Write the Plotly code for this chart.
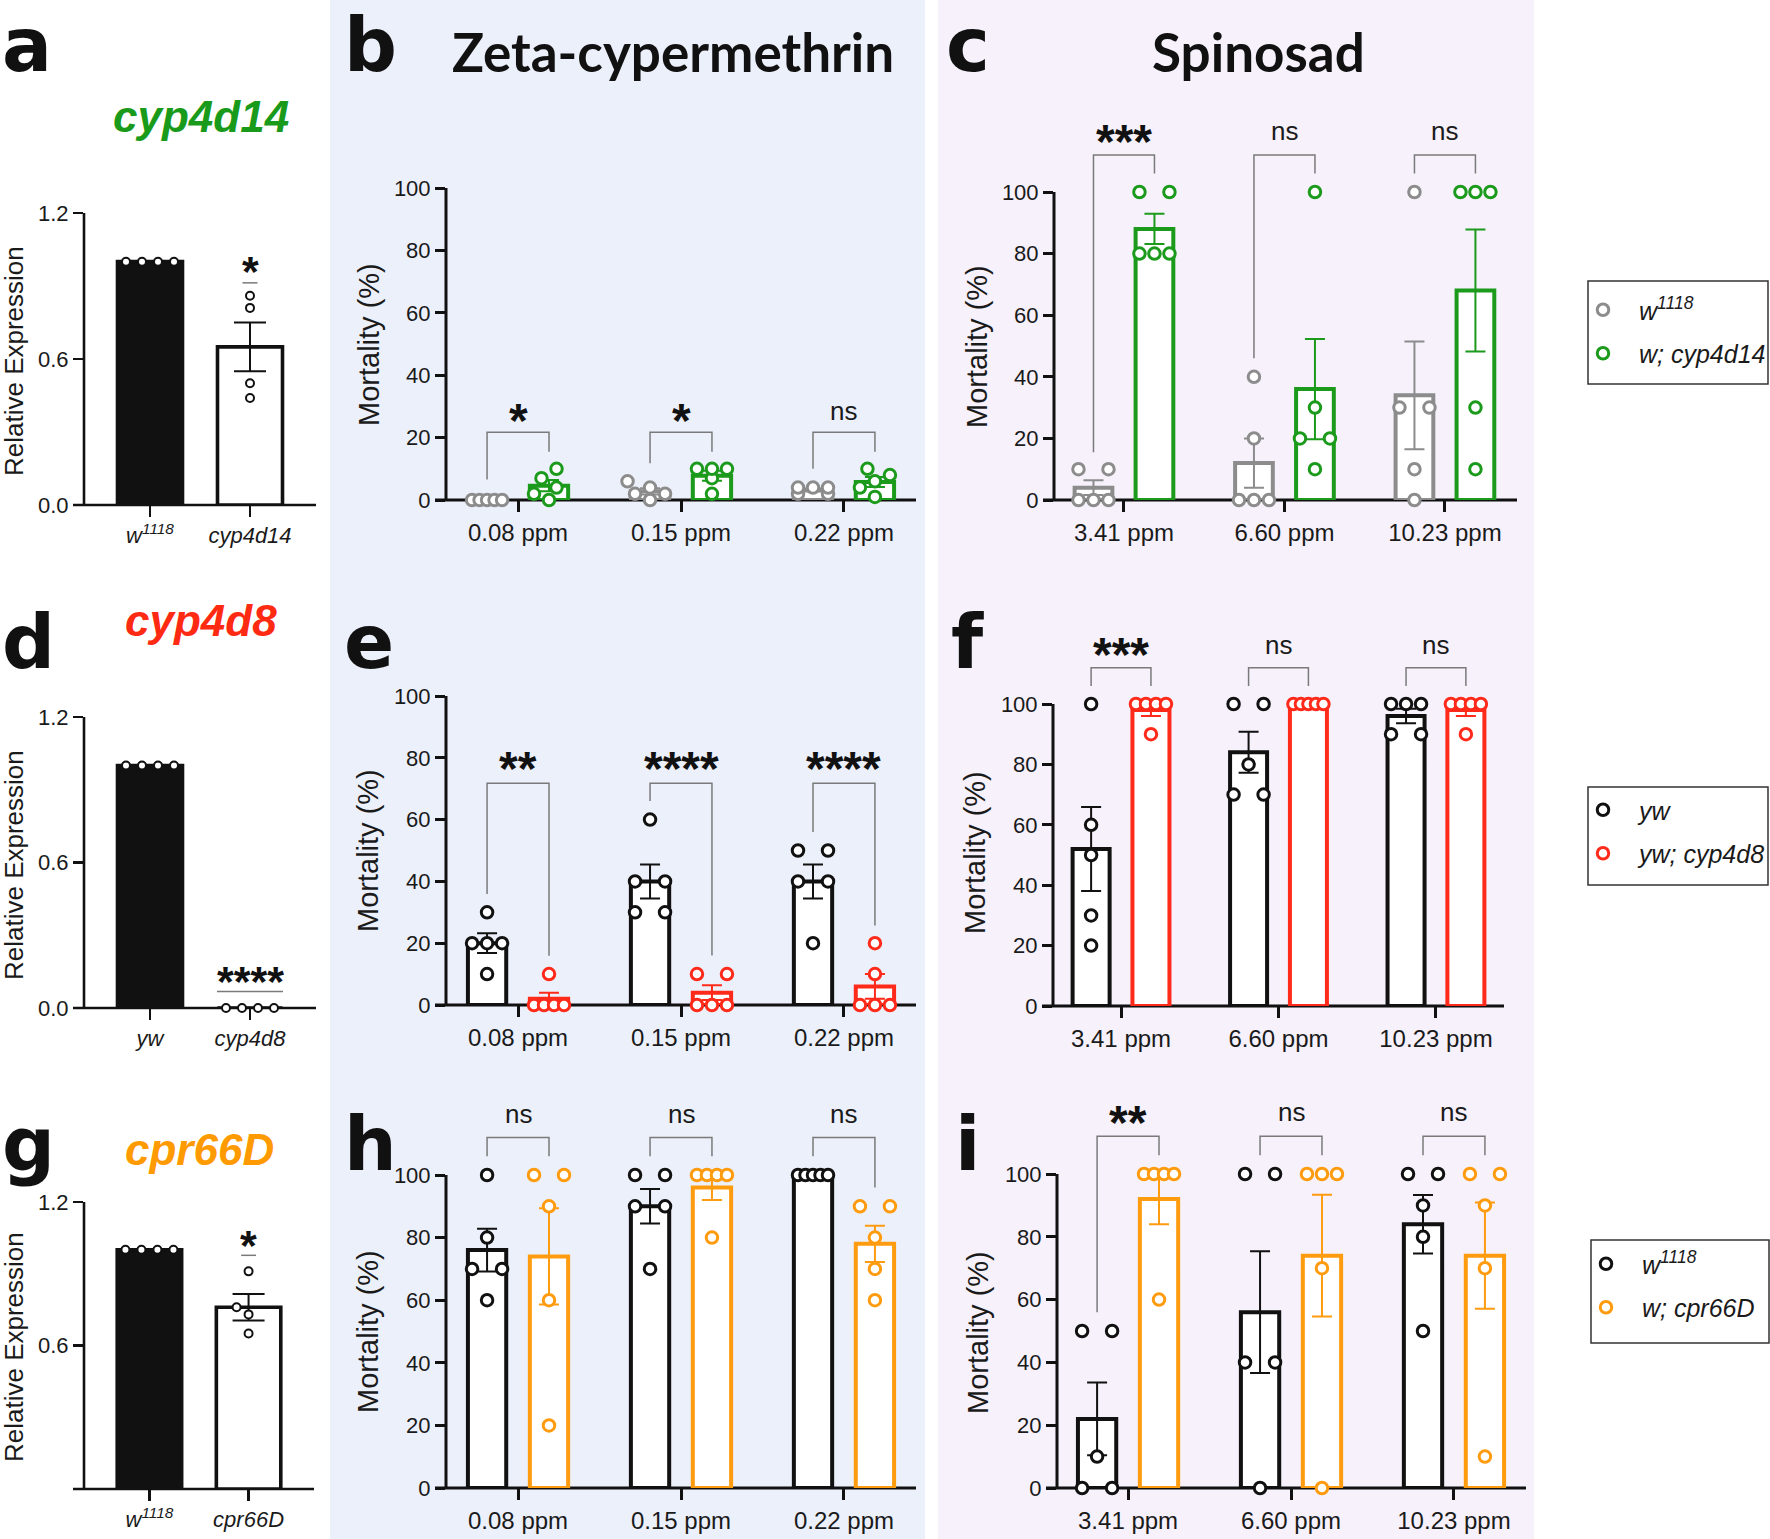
import numpy as np
import plotly.graph_objects as go

W, H = 1770, 1539

# ======================= DATA =======================
# --- relative expression (panels a, d, g) ---
a_labels = ["<i>w<sup>1118</sup></i>", "<i>cyp4d14</i>"]
a_ctrl = [1.00, 1.00, 1.00, 1.00]
a_mut = [0.86, 0.81, 0.50, 0.44]
a_mean = [1.00, 0.65]
a_sem = [0.00, 0.10]
a_sig = "*"
a_sig_y = 0.99
a_line_y = 0.913

d_labels = ["<i>yw</i>", "<i>cyp4d8</i>"]
d_ctrl = [1.00, 1.00, 1.00, 1.00]
d_mut = [0.00, 0.00, 0.00, 0.00]
d_mean = [1.00, 0.00]
d_sem = [0.00, 0.00]
d_sig = "****"
d_sig_y = 0.14
d_line_y = 0.068

g_labels = ["<i>w<sup>1118</sup></i>", "<i>cpr66D</i>"]
g_ctrl = [1.00, 1.00, 1.00, 1.00]
g_mut = [0.91, 0.76, 0.73, 0.65]
g_mean = [1.00, 0.76]
g_sem = [0.00, 0.055]
g_sig = "*"
g_sig_y = 1.05
g_line_y = 0.977

expr_ticks = [0.0, 0.6, 1.2]
g_ticks = [0.6, 1.2]

# --- mortality (%) ---
zeta_doses = ["0.08 ppm", "0.15 ppm", "0.22 ppm"]
spin_doses = ["3.41 ppm", "6.60 ppm", "10.23 ppm"]
mort_ticks = [0, 20, 40, 60, 80, 100]

# b : zeta-cypermethrin, w1118 vs w; cyp4d14
b_ctrl_pts = [[0, 0, 0, 0, 0], [0, 2, 2, 4, 6], [2, 2, 4, 4, 4]]
b_ctrl_mean = [0.0, 2.8, 3.2]
b_ctrl_sem = [0.0, 1.0, 0.5]
b_mut_pts = [[0, 2, 4, 7, 10], [2, 7, 10, 10, 10], [1, 4, 6, 8, 10]]
b_mut_mean = [4.6, 7.8, 5.8]
b_mut_sem = [1.8, 1.6, 1.6]
b_sig = ["*", "*", "ns"]
b_br_top = [21.7, 21.7, 21.7]
b_br_left = [6.6, 11.8, 10.0]
b_br_right = [15.5, 15.5, 15.5]
b_sig_y = [28, 28, 28]

# c : spinosad, w1118 vs w; cyp4d14
c_ctrl_pts = [[0, 0, 0, 10, 10], [0, 0, 0, 20, 40], [0, 10, 30, 30, 100]]
c_ctrl_mean = [4, 12, 34]
c_ctrl_sem = [2.4, 8.0, 17.5]
c_mut_pts = [[80, 80, 80, 100, 100], [10, 20, 20, 30, 100], [10, 30, 100, 100, 100]]
c_mut_mean = [88, 36, 68]
c_mut_sem = [4.9, 16.3, 19.8]
c_sig = ["***", "ns", "ns"]
c_br_top = [112, 112, 112]
c_br_left = [15.5, 46, 106]
c_br_right = [106, 106, 106]
c_sig_y = [119, 119, 119]

# e : zeta-cypermethrin, yw vs yw; cyp4d8
e_ctrl_pts = [[10, 20, 20, 20, 30], [30, 30, 40, 40, 60], [20, 40, 40, 50, 50]]
e_ctrl_mean = [20, 40, 40]
e_ctrl_sem = [3.2, 5.5, 5.5]
e_mut_pts = [[0, 0, 0, 0, 10], [0, 0, 0, 10, 10], [0, 0, 0, 10, 20]]
e_mut_mean = [2, 4, 6]
e_mut_sem = [2.0, 2.4, 4.0]
e_sig = ["**", "****", "****"]
e_br_top = [71.8, 71.8, 71.8]
e_br_left = [35.9, 66, 56]
e_br_right = [15.9, 16, 25.7]
e_sig_y = [79, 79, 79]

# f : spinosad, yw vs yw; cyp4d8
f_ctrl_pts = [[20, 30, 50, 60, 100], [70, 70, 80, 100, 100], [90, 90, 100, 100, 100]]
f_ctrl_mean = [52, 84, 96]
f_ctrl_sem = [13.9, 6.8, 2.4]
f_mut_pts = [[90, 100, 100, 100, 100], [100, 100, 100, 100, 100], [90, 100, 100, 100, 100]]
f_mut_mean = [98, 100, 98]
f_mut_sem = [2.0, 0.0, 2.0]
f_sig = ["***", "ns", "ns"]
f_br_top = [112, 112, 112]
f_br_left = [106, 106, 106]
f_br_right = [106, 106, 106]
f_sig_y = [119, 119, 119]

# h : zeta-cypermethrin, w1118 vs w; cpr66D
h_ctrl_pts = [[60, 70, 70, 80, 100], [70, 90, 90, 100, 100], [100, 100, 100, 100, 100]]
h_ctrl_mean = [76, 90, 100]
h_ctrl_sem = [6.8, 5.5, 0.0]
h_mut_pts = [[20, 60, 90, 100, 100], [80, 100, 100, 100, 100], [60, 70, 80, 90, 90]]
h_mut_mean = [74, 96, 78]
h_mut_sem = [15.4, 4.0, 5.8]
h_sig = ["ns", "ns", "ns"]
h_br_top = [112, 112, 112]
h_br_left = [106, 106, 106]
h_br_right = [106, 106, 96]
h_sig_y = [119, 119, 119]

# i : spinosad, w1118 vs w; cpr66D
i_ctrl_pts = [[0, 0, 10, 50, 50], [0, 40, 40, 100, 100], [50, 80, 90, 100, 100]]
i_ctrl_mean = [22, 56, 84]
i_ctrl_sem = [11.6, 19.4, 9.3]
i_mut_pts = [[60, 100, 100, 100, 100], [0, 70, 100, 100, 100], [10, 70, 90, 100, 100]]
i_mut_mean = [92, 74, 74]
i_mut_sem = [8.0, 19.4, 16.9]
i_sig = ["**", "ns", "ns"]
i_br_top = [112, 112, 112]
i_br_left = [56, 106, 106]
i_br_right = [106, 106, 106]
i_sig_y = [119, 119, 119]

row1_names = ["<i>w<sup>1118</sup></i>", "<i>w; cyp4d14</i>"]
row2_names = ["<i>yw</i>", "<i>yw; cyp4d8</i>"]
row3_names = ["<i>w<sup>1118</sup></i>", "<i>w; cpr66D</i>"]

# ======================= STYLE =======================
GRAY = "#8c8c8c"
GREEN = "#1b9a1b"
BLACK = "#111111"
RED = "#ff2a1a"
ORANGE = "#ff9b0f"
BRACKET = "#7a7a7a"
BLUE_BG = "#ecf0fa"
PURPLE_BG = "#f6f1fb"
AXF = "Liberation Sans"
TITLEF = "Lato"
LETTERF = "DejaVu Sans"

# geometry in page pixels (layout only)
GEOM = {
    "a": dict(n=1, xpx=(84, 316), xr=(-0.66, 1.66), y0=505, yref_px=213, yref_val=1.2, ytop=1.2),
    "d": dict(n=2, xpx=(84, 316), xr=(-0.66, 1.66), y0=1008, yref_px=717, yref_val=1.2, ytop=1.2),
    "g": dict(n=3, xpx=(84, 314), xr=(-0.66, 1.66), y0=1489, yref_px=1202, yref_val=1.2, ytop=1.2),
    "b": dict(n=4, xpx=(446, 916), xr=(-0.442, 2.442), y0=500, yref_px=188, yref_val=100, ytop=100),
    "e": dict(n=5, xpx=(446, 916), xr=(-0.442, 2.442), y0=1005, yref_px=696, yref_val=100, ytop=100),
    "h": dict(n=6, xpx=(446, 916), xr=(-0.442, 2.442), y0=1488, yref_px=1175, yref_val=100, ytop=123),
    "c": dict(n=7, xpx=(1054, 1517), xr=(-0.436, 2.449), y0=500, yref_px=192, yref_val=100, ytop=124),
    "f": dict(n=8, xpx=(1053, 1504), xr=(-0.432, 2.432), y0=1006, yref_px=704, yref_val=100, ytop=123),
    "i": dict(n=9, xpx=(1057, 1526), xr=(-0.436, 2.442), y0=1488, yref_px=1174, yref_val=100, ytop=123),
}
for k, gm in GEOM.items():
    gm["ppy"] = (gm["y0"] - gm["yref_px"]) / gm["yref_val"]
    gm["ppx"] = (gm["xpx"][1] - gm["xpx"][0]) / (gm["xr"][1] - gm["xr"][0])
    top_px = gm["y0"] - gm["ytop"] * gm["ppy"]
    gm["xdom"] = [gm["xpx"][0] / W, gm["xpx"][1] / W]
    gm["ydom"] = [1 - gm["y0"] / H, 1 - top_px / H]


def axn(n):
    return "" if n == 1 else str(n)


def swarm(values, ppx, ppy, span_px, coll_px):
    """GraphPad-like scatter layout: tied values spread evenly across span,
    single values nudged sideways to avoid overlap. Returns x offsets (data units)."""
    offs = [0.0] * len(values)
    placed = []
    h = span_px / 2.0
    for v in sorted(set(values)):
        idx = [j for j in range(len(values)) if values[j] == v]
        k = len(idx)
        ypx = v * ppy
        if k > 1:
            xs = [-h + span_px * m / (k - 1) for m in range(k)]
        else:
            cands = [0, -h / 2, h / 2, -h, h, -1.5 * h, 1.5 * h]
            best, bestd = 0, -1
            for cnd in cands:
                dmin = min([np.hypot(cnd - px, ypx - py) for px, py in placed], default=1e9)
                if dmin >= coll_px:
                    best = cnd
                    break
                if dmin > bestd:
                    bestd, best = dmin, cnd
            xs = [best]
        for j, xx in zip(idx, xs):
            offs[j] = xx / ppx
            placed.append((xx, ypx))
    return offs


fig = go.Figure()
shapes = []
annotations = []
layout_axes = {}


def axis_setup(key, tickvals, ticktext, ytickvals, ytext=None, xfont=24, lw=3.0):
    gm = GEOM[key]
    n = gm["n"]
    layout_axes["xaxis" + axn(n)] = dict(
        domain=gm["xdom"], range=list(gm["xr"]), anchor="y" + axn(n),
        showline=False, showgrid=False, zeroline=False, automargin=False,
        ticks="outside", ticklen=11, tickwidth=lw, tickcolor=BLACK,
        tickvals=tickvals, ticktext=ticktext,
        tickfont=dict(family=AXF, size=xfont, color="#1a1a1a"), fixedrange=True,
    )
    layout_axes["yaxis" + axn(n)] = dict(
        domain=gm["ydom"], range=[0, gm["ytop"]], anchor="x" + axn(n),
        showline=False, showgrid=False, zeroline=False, automargin=False,
        ticks="outside", ticklen=10, tickwidth=lw, tickcolor=BLACK,
        tickvals=ytickvals, ticktext=ytext,
        tickfont=dict(family=AXF, size=22, color="#1a1a1a"), fixedrange=True,
    )
    xd = "x" + axn(n) + " domain"
    yd = "y" + axn(n) + " domain"
    ext = 11.0 / (gm["xpx"][1] - gm["xpx"][0])
    shapes.append(dict(type="line", xref=xd, yref=yd, x0=-ext, x1=1, y0=0, y1=0,
                       line=dict(color=BLACK, width=lw), layer="below"))
    shapes.append(dict(type="line", xref=xd, yref=yd, x0=0, x1=0, y0=0,
                       y1=gm["yref_val"] / gm["ytop"],
                       line=dict(color=BLACK, width=lw), layer="below"))


def sig_annot(n, x, y, text, asterisk_size=48):
    if "*" in text:
        annotations.append(dict(xref="x" + axn(n), yref="y" + axn(n), x=x, y=y, text="<b>%s</b>" % text,
                                showarrow=False, yshift=-0.16 * asterisk_size,
                                font=dict(family=AXF, size=asterisk_size, color=BLACK)))
    else:
        annotations.append(dict(xref="x" + axn(n), yref="y" + axn(n), x=x, y=y, text=text,
                                showarrow=False, yshift=2,
                                font=dict(family=AXF, size=26, color="#1a1a1a")))


def add_expr(key, labels, ctrl, mut, mean, sem, sig, sig_y, line_y, line_hw, yticks):
    gm = GEOM[key]
    n = gm["n"]
    xa, ya = "x" + axn(n), "y" + axn(n)
    axis_setup(key, [0, 1], labels, yticks, ["%.1f" % t for t in yticks], xfont=22, lw=2.6)
    fig.add_trace(go.Bar(
        x=[0, 1], y=mean, width=0.65, xaxis=xa, yaxis=ya, showlegend=False,
        marker=dict(color=[BLACK, "white"], line=dict(color=BLACK, width=3.6)),
        error_y=dict(type="data", array=[s if s > 0 else None for s in sem], color=BLACK,
                     thickness=2, width=16, symmetric=True),
        hoverinfo="skip"))
    for gi, pts in enumerate([ctrl, mut]):
        offs = swarm(pts, gm["ppx"], gm["ppy"], 48, 11)
        fig.add_trace(go.Scatter(
            x=[gi + o for o in offs], y=pts, mode="markers", xaxis=xa, yaxis=ya,
            showlegend=False, cliponaxis=False, hoverinfo="skip",
            marker=dict(symbol="circle", size=8, color="white", line=dict(color=BLACK, width=2))))
    shapes.append(dict(type="line", xref=xa, yref=ya, x0=1 - line_hw, x1=1 + line_hw, y0=line_y, y1=line_y,
                       line=dict(color=BRACKET, width=1.5)))
    sig_annot(n, 1, sig_y, sig, asterisk_size=43)


OFF = 0.19
BW = 0.235


def add_mort(key, doses, cp, cm, cs, mp, mm, ms, sig, brt, brl, brr, sgy, col_c, col_m,
             names, legend):
    gm = GEOM[key]
    n = gm["n"]
    xa, ya = "x" + axn(n), "y" + axn(n)
    axis_setup(key, [0, 1, 2], doses, mort_ticks, [str(t) for t in mort_ticks])
    for side, means, sems, col in [(-1, cm, cs, col_c), (1, mm, ms, col_m)]:
        fig.add_trace(go.Bar(
            x=[k + side * OFF for k in range(3)], y=means, width=BW, xaxis=xa, yaxis=ya,
            showlegend=False, hoverinfo="skip",
            marker=dict(color="white", line=dict(color=col, width=4)),
            error_y=dict(type="data", array=[s if s > 0 else None for s in sems], color=col,
                         thickness=2, width=10, symmetric=True)))
    for side, pts, col, nm in [(-1, cp, col_c, names[0]), (1, mp, col_m, names[1])]:
        xs, ys = [], []
        for k in range(3):
            offs = swarm(pts[k], gm["ppx"], gm["ppy"], 30, 14)
            xs += [k + side * OFF + o for o in offs]
            ys += list(pts[k])
        fig.add_trace(go.Scatter(
            x=xs, y=ys, mode="markers", xaxis=xa, yaxis=ya, name=nm,
            showlegend=legend is not None, legend=legend if legend else "legend",
            legendgroup=nm + (legend or ""), cliponaxis=False, hoverinfo="skip",
            marker=dict(symbol="circle", size=11.5, color="white", line=dict(color=col, width=3))))
    for k in range(3):
        xl, xr_ = k - OFF, k + OFF
        shapes.append(dict(type="path", xref=xa, yref=ya,
                           path="M %f,%f L %f,%f L %f,%f L %f,%f" % (xl, brl[k], xl, brt[k], xr_, brt[k], xr_, brr[k]),
                           line=dict(color=BRACKET, width=1.5)))
        sig_annot(n, k, sgy[k], sig[k])


# ---- build panels ----
add_expr("a", a_labels, a_ctrl, a_mut, a_mean, a_sem, a_sig, a_sig_y, a_line_y, 0.075, expr_ticks)
add_expr("d", d_labels, d_ctrl, d_mut, d_mean, d_sem, d_sig, d_sig_y, d_line_y, 0.33, expr_ticks)
add_expr("g", g_labels, g_ctrl, g_mut, g_mean, g_sem, g_sig, g_sig_y, g_line_y, 0.075, g_ticks)

add_mort("b", zeta_doses, b_ctrl_pts, b_ctrl_mean, b_ctrl_sem, b_mut_pts, b_mut_mean, b_mut_sem,
         b_sig, b_br_top, b_br_left, b_br_right, b_sig_y, GRAY, GREEN, row1_names, None)
add_mort("c", spin_doses, c_ctrl_pts, c_ctrl_mean, c_ctrl_sem, c_mut_pts, c_mut_mean, c_mut_sem,
         c_sig, c_br_top, c_br_left, c_br_right, c_sig_y, GRAY, GREEN, row1_names, "legend")
add_mort("e", zeta_doses, e_ctrl_pts, e_ctrl_mean, e_ctrl_sem, e_mut_pts, e_mut_mean, e_mut_sem,
         e_sig, e_br_top, e_br_left, e_br_right, e_sig_y, BLACK, RED, row2_names, None)
add_mort("f", spin_doses, f_ctrl_pts, f_ctrl_mean, f_ctrl_sem, f_mut_pts, f_mut_mean, f_mut_sem,
         f_sig, f_br_top, f_br_left, f_br_right, f_sig_y, BLACK, RED, row2_names, "legend2")
add_mort("h", zeta_doses, h_ctrl_pts, h_ctrl_mean, h_ctrl_sem, h_mut_pts, h_mut_mean, h_mut_sem,
         h_sig, h_br_top, h_br_left, h_br_right, h_sig_y, BLACK, ORANGE, row3_names, None)
add_mort("i", spin_doses, i_ctrl_pts, i_ctrl_mean, i_ctrl_sem, i_mut_pts, i_mut_mean, i_mut_sem,
         i_sig, i_br_top, i_br_left, i_br_right, i_sig_y, BLACK, ORANGE, row3_names, "legend3")

# ---- panel backgrounds and legend frames (page pixels -> paper fractions) ----
def prect(x0, y0, x1, y1, **kw):
    return dict(type="rect", xref="paper", yref="paper", x0=x0 / W, x1=x1 / W,
                y0=1 - y1 / H, y1=1 - y0 / H, layer="below", **kw)


bg = [prect(330, 0, 925, H, fillcolor=BLUE_BG, line=dict(width=0)),
      prect(938, 0, 1534, H, fillcolor=PURPLE_BG, line=dict(width=0))]
LEG_BOXES = [(1588, 281, 1768, 384), (1588, 787, 1768, 885), (1591, 1240, 1769, 1343)]
frames = [prect(*b, fillcolor="white", line=dict(color="#333333", width=1.5)) for b in LEG_BOXES]
shapes = bg + frames + shapes


def ptext(x_px, y_px, text, size, family, color=BLACK, xanchor="center", yanchor="middle",
          angle=0, weight=None):
    fnt = dict(family=family, size=size, color=color)
    if weight is not None:
        fnt["weight"] = weight
    annotations.append(dict(xref="paper", yref="paper", x=x_px / W, y=1 - y_px / H, text=text,
                            showarrow=False, xanchor=xanchor, yanchor=yanchor, textangle=angle,
                            font=fnt))


# panel letters (box top at the given y)
for letter, (lx, ly) in {"a": (0, 0), "b": (342, 0), "c": (944, 0),
                         "d": (0, 597), "e": (342, 597), "f": (949, 597),
                         "g": (0, 1099), "h": (342, 1099), "i": (953, 1099)}.items():
    ptext(lx, ly, "<b>%s</b>" % letter, 74, LETTERF, xanchor="left", yanchor="top")

# column titles
ptext(673, 51, "<b>Zeta-cypermethrin</b>", 53, TITLEF)
ptext(1258, 51, "<b>Spinosad</b>", 53, TITLEF)

# gene titles
ptext(201, 116, "<b><i>cyp4d14</i></b>", 44, AXF, color="#1a9a1a")
ptext(201, 620, "<b><i>cyp4d8</i></b>", 44, AXF, color="#ff2a12")
ptext(199, 1149, "<b><i>cpr66D</i></b>", 44, AXF, color="#ff9a00")

# y-axis titles
for (x_px, y_px) in [(14, 361), (14, 865), (14, 1347)]:
    ptext(x_px, y_px, "Relative Expression", 26, AXF, color="#1a1a1a", angle=-90)
for (x_px, y_px) in [(369, 345), (368, 851), (368, 1332), (977, 347), (975, 853), (978, 1332)]:
    ptext(x_px, y_px, "Mortality (%)", 29, AXF, color="#1a1a1a", angle=-90)

legend_style = dict(xanchor="left", yanchor="top", bgcolor="rgba(0,0,0,0)",
                    borderwidth=0, font=dict(family=AXF, size=25, color="#1a1a1a"),
                    tracegroupgap=8, itemwidth=62)
LEG_ANCHORS = [(1567, 287), (1567, 787), (1570, 1241)]

fig.update_layout(
    width=W, height=H, autosize=False,
    margin=dict(l=0, r=0, t=0, b=0, pad=0, autoexpand=False),
    paper_bgcolor="white", plot_bgcolor="rgba(0,0,0,0)",
    barmode="overlay", bargap=0,
    shapes=shapes, annotations=annotations,
    legend=dict(x=LEG_ANCHORS[0][0] / W, y=1 - LEG_ANCHORS[0][1] / H, **legend_style),
    legend2=dict(x=LEG_ANCHORS[1][0] / W, y=1 - LEG_ANCHORS[1][1] / H, **legend_style),
    legend3=dict(x=LEG_ANCHORS[2][0] / W, y=1 - LEG_ANCHORS[2][1] / H, **legend_style),
    **layout_axes,
)

reset_js = ("document.documentElement.style.margin='0';document.body.style.margin='0';"
            "document.body.style.padding='0';document.body.style.overflow='hidden';")
fig.write_html("out.html", config={"displayModeBar": False, "staticPlot": True},
               post_script=reset_js + "}); " + reset_js + " (function(){")
